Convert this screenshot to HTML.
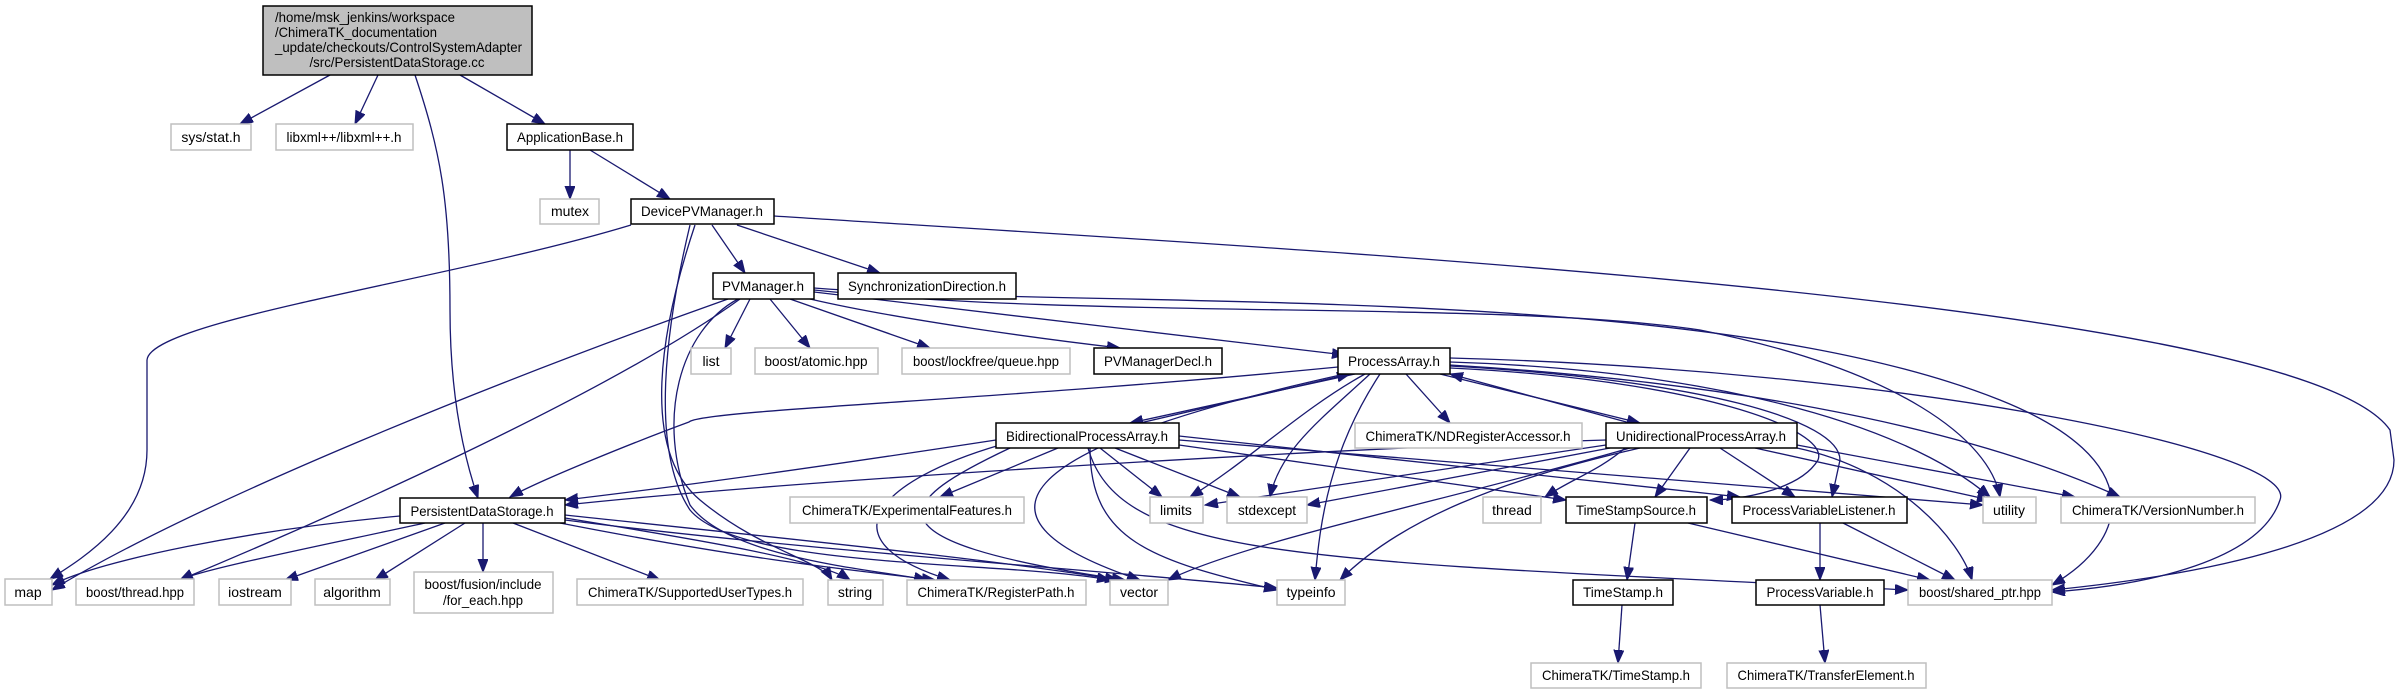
<!DOCTYPE html>
<html><head><meta charset="utf-8"><style>
html,body{margin:0;padding:0;background:#fff;}
svg{display:block;}
text{font-family:"Liberation Sans",Arial,sans-serif;font-size:14px;fill:#000;}
.e{fill:none;stroke:#191970;stroke-width:1.3;marker-end:url(#a);}
.n{fill:#fff;stroke:#000;stroke-width:1.5;}
.x{fill:#fff;stroke:#bfbfbf;stroke-width:1.5;}
</style></head><body>
<svg width="2398" height="693" viewBox="0 0 2398 693" xmlns="http://www.w3.org/2000/svg">
<defs><marker id="a" markerUnits="userSpaceOnUse" markerWidth="14" markerHeight="11" refX="13" refY="5" orient="auto"><path d="M0,0 L13,5 L0,10 z" fill="#191970" stroke="#191970"/></marker></defs>
<g>
<path class="e" d="M330,75 L240,124"/>
<path class="e" d="M378,75 L355,124"/>
<path class="e" d="M460,75 L545,124"/>
<path class="e" d="M415,75 C440,150 450,200 450,310 C450,400 465,460 478,498"/>
<path class="e" d="M570,150 L570,199"/>
<path class="e" d="M590,150 L670,199"/>
<path class="e" d="M631,225 C450,280 150,320 147,360 L147,450 C147,520 80,560 50,579"/>
<path class="e" d="M712,225 L745,273"/>
<path class="e" d="M737,225 L880,273"/>
<path class="e" d="M774,216 C1300,250 2300,300 2390,430 L2394,460 C2394,540 2200,575 2052,590"/>
<path class="e" d="M695,225 C660,330 640,450 700,500 C760,550 820,560 832,580"/>
<path class="e" d="M690,225 C665,330 650,450 690,510 C740,570 1000,560 1110,580"/>
<path class="e" d="M738,299 C680,330 655,420 690,505 C730,560 880,570 927,580"/>
<path class="e" d="M728,299 C500,380 200,500 52,590"/>
<path class="e" d="M740,299 C600,400 300,530 180,580"/>
<path class="e" d="M750,299 L725,348"/>
<path class="e" d="M770,299 L810,348"/>
<path class="e" d="M790,299 L930,348"/>
<path class="e" d="M810,299 C900,320 1050,340 1120,348"/>
<path class="e" d="M814,292 L1345,355"/>
<path class="e" d="M814,290 C1100,320 1500,300 1700,330 C1900,370 1990,440 2000,497"/>
<path class="e" d="M814,288 C1100,310 1700,280 2000,400 C2150,460 2130,540 2052,585"/>
<path class="e" d="M1338,367 C1000,400 700,410 689,422 C640,440 540,480 510,497"/>
<path class="e" d="M1355,374 L1130,423"/>
<path class="e" d="M1140,423 L1350,374"/>
<path class="e" d="M1440,374 L1640,423"/>
<path class="e" d="M1630,423 L1450,374"/>
<path class="e" d="M1406,374 L1450,423"/>
<path class="e" d="M1365,374 C1300,410 1250,460 1190,497"/>
<path class="e" d="M1370,374 C1320,420 1280,450 1270,497"/>
<path class="e" d="M1380,374 C1330,450 1320,520 1315,580"/>
<path class="e" d="M1345,374 C1000,450 960,520 1140,580"/>
<path class="e" d="M1450,362 C1700,370 1900,420 1990,497"/>
<path class="e" d="M1450,365 C1700,380 1950,420 2120,497"/>
<path class="e" d="M1450,358 C1900,370 2300,450 2280,500 C2260,560 2150,585 2052,592"/>
<path class="e" d="M1450,368 C1700,380 1830,430 1818,460 C1800,490 1740,500 1710,500"/>
<path class="e" d="M1450,366 C1700,380 1840,420 1840,460 L1832,497"/>
<path class="e" d="M996,440 C800,470 650,490 565,500"/>
<path class="e" d="M1058,448 L940,497"/>
<path class="e" d="M1100,448 L1162,497"/>
<path class="e" d="M1115,448 L1240,497"/>
<path class="e" d="M1090,448 C1090,540 1150,560 1277,590"/>
<path class="e" d="M1088,448 C1120,560 1300,560 1908,590"/>
<path class="e" d="M1179,440 L1983,505"/>
<path class="e" d="M1179,445 L1566,500"/>
<path class="e" d="M1179,436 L1740,497"/>
<path class="e" d="M1010,448 C900,500 850,540 1125,580"/>
<path class="e" d="M1000,445 C880,480 820,540 950,580"/>
<path class="e" d="M1606,440 C1300,450 800,480 565,505"/>
<path class="e" d="M1606,445 L1205,505"/>
<path class="e" d="M1610,448 L1307,505"/>
<path class="e" d="M1625,448 C1600,470 1570,480 1545,497"/>
<path class="e" d="M1690,448 L1655,497"/>
<path class="e" d="M1720,448 L1795,497"/>
<path class="e" d="M1755,448 L1990,500"/>
<path class="e" d="M1797,445 L2075,497"/>
<path class="e" d="M1640,448 C1500,480 1400,520 1340,580"/>
<path class="e" d="M1630,448 C1450,500 1250,540 1168,580"/>
<path class="e" d="M1797,448 C1900,470 1960,540 1972,580"/>
<path class="e" d="M400,516 C250,530 100,560 52,585"/>
<path class="e" d="M425,523 C300,550 200,570 180,580"/>
<path class="e" d="M445,523 L285,580"/>
<path class="e" d="M465,523 L375,580"/>
<path class="e" d="M483,523 L483,572"/>
<path class="e" d="M513,523 L660,580"/>
<path class="e" d="M565,518 C700,540 820,560 850,580"/>
<path class="e" d="M560,523 C750,560 850,570 935,580"/>
<path class="e" d="M565,515 C800,540 1000,560 1118,580"/>
<path class="e" d="M565,520 C800,550 1100,570 1277,588"/>
<path class="e" d="M1635,523 L1627,580"/>
<path class="e" d="M1688,523 L1930,580"/>
<path class="e" d="M1820,523 L1820,580"/>
<path class="e" d="M1843,523 L1955,580"/>
<path class="e" d="M1622,605 L1618,663"/>
<path class="e" d="M1820,605 L1825,663"/>
</g>
<g>
<rect x="263" y="6" width="269" height="69" fill="#bfbfbf" stroke="#000" stroke-width="1.5"/>
<text x="275" y="22" textLength="180" lengthAdjust="spacingAndGlyphs">/home/msk_jenkins/workspace</text>
<text x="275" y="37" textLength="162" lengthAdjust="spacingAndGlyphs">/ChimeraTK_documentation</text>
<text x="275" y="52" textLength="247" lengthAdjust="spacingAndGlyphs">_update/checkouts/ControlSystemAdapter</text>
<text x="397" y="67" text-anchor="middle" textLength="175" lengthAdjust="spacingAndGlyphs">/src/PersistentDataStorage.cc</text>
</g>
<g>
<rect class="x" x="171" y="124" width="80" height="26"/><text x="211" y="142" text-anchor="middle">sys/stat.h</text>
<rect class="x" x="276" y="124" width="137" height="26"/><text x="344" y="142" text-anchor="middle" textLength="115" lengthAdjust="spacingAndGlyphs">libxml++/libxml++.h</text>
<rect class="n" x="507" y="124" width="126" height="26"/><text x="570" y="142" text-anchor="middle" textLength="106" lengthAdjust="spacingAndGlyphs">ApplicationBase.h</text>
<rect class="x" x="540" y="199" width="59" height="25"/><text x="570" y="216" text-anchor="middle">mutex</text>
<rect class="n" x="631" y="199" width="143" height="25"/><text x="702" y="216" text-anchor="middle" textLength="122" lengthAdjust="spacingAndGlyphs">DevicePVManager.h</text>
<rect class="n" x="713" y="273" width="101" height="26"/><text x="763" y="291" text-anchor="middle" textLength="82" lengthAdjust="spacingAndGlyphs">PVManager.h</text>
<rect class="n" x="838" y="273" width="178" height="26"/><text x="927" y="291" text-anchor="middle" textLength="158" lengthAdjust="spacingAndGlyphs">SynchronizationDirection.h</text>
<rect class="x" x="691" y="348" width="40" height="26"/><text x="711" y="366" text-anchor="middle">list</text>
<rect class="x" x="755" y="348" width="123" height="26"/><text x="816" y="366" text-anchor="middle" textLength="103" lengthAdjust="spacingAndGlyphs">boost/atomic.hpp</text>
<rect class="x" x="902" y="348" width="168" height="26"/><text x="986" y="366" text-anchor="middle" textLength="146" lengthAdjust="spacingAndGlyphs">boost/lockfree/queue.hpp</text>
<rect class="n" x="1094" y="348" width="128" height="26"/><text x="1158" y="366" text-anchor="middle" textLength="108" lengthAdjust="spacingAndGlyphs">PVManagerDecl.h</text>
<rect class="n" x="1338" y="348" width="112" height="26"/><text x="1394" y="366" text-anchor="middle" textLength="92" lengthAdjust="spacingAndGlyphs">ProcessArray.h</text>
<rect class="n" x="996" y="423" width="183" height="25"/><text x="1087" y="441" text-anchor="middle" textLength="162" lengthAdjust="spacingAndGlyphs">BidirectionalProcessArray.h</text>
<rect class="x" x="1355" y="423" width="227" height="25"/><text x="1468" y="441" text-anchor="middle" textLength="205" lengthAdjust="spacingAndGlyphs">ChimeraTK/NDRegisterAccessor.h</text>
<rect class="n" x="1606" y="423" width="191" height="25"/><text x="1701" y="441" text-anchor="middle" textLength="170" lengthAdjust="spacingAndGlyphs">UnidirectionalProcessArray.h</text>
<rect class="n" x="400" y="498" width="165" height="25"/><text x="482" y="516" text-anchor="middle" textLength="143" lengthAdjust="spacingAndGlyphs">PersistentDataStorage.h</text>
<rect class="x" x="790" y="497" width="234" height="26"/><text x="907" y="515" text-anchor="middle" textLength="210" lengthAdjust="spacingAndGlyphs">ChimeraTK/ExperimentalFeatures.h</text>
<rect class="x" x="1150" y="497" width="53" height="26"/><text x="1176" y="515" text-anchor="middle">limits</text>
<rect class="x" x="1227" y="497" width="80" height="26"/><text x="1267" y="515" text-anchor="middle" textLength="58" lengthAdjust="spacingAndGlyphs">stdexcept</text>
<rect class="x" x="1483" y="497" width="58" height="26"/><text x="1512" y="515" text-anchor="middle">thread</text>
<rect class="n" x="1566" y="497" width="141" height="26"/><text x="1636" y="515" text-anchor="middle" textLength="120" lengthAdjust="spacingAndGlyphs">TimeStampSource.h</text>
<rect class="n" x="1732" y="497" width="175" height="26"/><text x="1819" y="515" text-anchor="middle" textLength="153" lengthAdjust="spacingAndGlyphs">ProcessVariableListener.h</text>
<rect class="x" x="1983" y="497" width="53" height="26"/><text x="2009" y="515" text-anchor="middle">utility</text>
<rect class="x" x="2061" y="497" width="194" height="26"/><text x="2158" y="515" text-anchor="middle" textLength="172" lengthAdjust="spacingAndGlyphs">ChimeraTK/VersionNumber.h</text>
<rect class="x" x="5" y="579" width="47" height="26"/><text x="28" y="597" text-anchor="middle">map</text>
<rect class="x" x="76" y="579" width="118" height="26"/><text x="135" y="597" text-anchor="middle" textLength="98" lengthAdjust="spacingAndGlyphs">boost/thread.hpp</text>
<rect class="x" x="219" y="579" width="72" height="26"/><text x="255" y="597" text-anchor="middle">iostream</text>
<rect class="x" x="315" y="579" width="75" height="26"/><text x="352" y="597" text-anchor="middle">algorithm</text>
<rect class="x" x="414" y="572" width="139" height="41"/><text x="483" y="589" text-anchor="middle" textLength="117" lengthAdjust="spacingAndGlyphs">boost/fusion/include</text><text x="483" y="605" text-anchor="middle" textLength="80" lengthAdjust="spacingAndGlyphs">/for_each.hpp</text>
<rect class="x" x="577" y="579" width="226" height="26"/><text x="690" y="597" text-anchor="middle" textLength="204" lengthAdjust="spacingAndGlyphs">ChimeraTK/SupportedUserTypes.h</text>
<rect class="x" x="828" y="580" width="55" height="25"/><text x="855" y="597" text-anchor="middle">string</text>
<rect class="x" x="907" y="580" width="179" height="25"/><text x="996" y="597" text-anchor="middle" textLength="157" lengthAdjust="spacingAndGlyphs">ChimeraTK/RegisterPath.h</text>
<rect class="x" x="1110" y="580" width="58" height="25"/><text x="1139" y="597" text-anchor="middle">vector</text>
<rect class="x" x="1277" y="580" width="68" height="25"/><text x="1311" y="597" text-anchor="middle">typeinfo</text>
<rect class="n" x="1573" y="580" width="100" height="25"/><text x="1623" y="597" text-anchor="middle" textLength="80" lengthAdjust="spacingAndGlyphs">TimeStamp.h</text>
<rect class="n" x="1756" y="580" width="128" height="25"/><text x="1820" y="597" text-anchor="middle" textLength="107" lengthAdjust="spacingAndGlyphs">ProcessVariable.h</text>
<rect class="x" x="1908" y="580" width="144" height="25"/><text x="1980" y="597" text-anchor="middle" textLength="122" lengthAdjust="spacingAndGlyphs">boost/shared_ptr.hpp</text>
<rect class="x" x="1531" y="663" width="170" height="25"/><text x="1616" y="680" text-anchor="middle" textLength="148" lengthAdjust="spacingAndGlyphs">ChimeraTK/TimeStamp.h</text>
<rect class="x" x="1727" y="663" width="199" height="25"/><text x="1826" y="680" text-anchor="middle" textLength="177" lengthAdjust="spacingAndGlyphs">ChimeraTK/TransferElement.h</text>
</g>
</svg>
</body></html>
